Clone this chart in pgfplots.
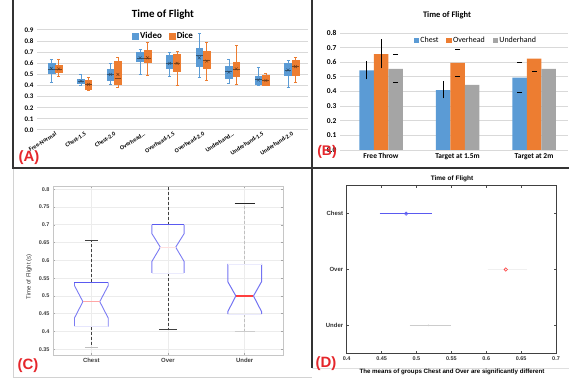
\documentclass[border=0pt]{standalone}
\usepackage{fontspec}
\setmainfont{Carlito}
\newfontfamily\hel{Liberation Sans}
\usepackage{pgfplots}
\pgfplotsset{compat=1.18}
\definecolor{vblue}{HTML}{5B9BD5}
\definecolor{dorange}{HTML}{ED7D31}
\definecolor{ugray}{HTML}{A5A5A5}
\definecolor{lblred}{HTML}{E5262B}
\definecolor{gridc}{HTML}{D9D9D9}
\definecolor{mblue}{HTML}{5A5AF0}
\newcommand{\fsz}[1]{\fontsize{#1}{#1}\selectfont}
% box: color, position, lower whisker, q1, median, q3, upper whisker
\newcommand{\bxA}[7]{%
\pgfmathsetmacro\bxl{#2-0.115}\pgfmathsetmacro\bxr{#2+0.115}%
\pgfmathsetmacro\cxl{#2-0.05}\pgfmathsetmacro\cxr{#2+0.05}%
\addplot[draw=#1, line width=0.6bp] coordinates {(#2,#3)(#2,#4)};
\addplot[draw=#1, line width=0.6bp] coordinates {(#2,#6)(#2,#7)};
\addplot[draw=#1, line width=0.6bp] coordinates {(\cxl,#3)(\cxr,#3)};
\addplot[draw=#1, line width=0.6bp] coordinates {(\cxl,#7)(\cxr,#7)};
\addplot[fill=#1, draw=#1, line width=0.5bp] coordinates {(\bxl,#4)(\bxr,#4)(\bxr,#6)(\bxl,#6)} -- cycle;
\addplot[draw=#1!55!black, line width=0.5bp] coordinates {(\bxl,#5)(\bxr,#5)};
}
\begin{document}
\begin{tikzpicture}
\begin{scope}[x=1bp,y=1bp]
\useasboundingbox (0,0) rectangle (569,382);
\draw[gray!35, line width=0.8bp] (13,214) -- (13,5) -- (312,5);
\draw[gray!25, line width=0.8bp] (312,14) -- (569,14);
\draw[black!80, line width=1.2bp] (13,382) -- (13,214) -- (569,214);
\draw[black!80, line width=1.2bp] (312,382) -- (312,14);
\end{scope}

% ================= Panel A =================
\begin{axis}[at={(37bp,252bp)}, anchor=south west, scale only axis,
  width=271bp, height=100bp,
  xmin=-0.61, xmax=8.55, ymin=0, ymax=0.9,
  ytick={0,0.1,0.2,0.3,0.4,0.5,0.6,0.7,0.8,0.9},
  xtick={0,1,2,3,4,5,6,7,8},
  xticklabels={Free-Normal,Chest-1.5,Chest-2.0,Overhead\ldots,Overhead-1.5,Overhead-2.0,Underhand\ldots,Underhand-1.5,Underhand-2.0},
  x tick label style={rotate=32, anchor=north east, font=\bfseries\fsz{6}, inner sep=1bp},
  y tick label style={font=\bfseries\fsz{7}},
  yticklabel style={/pgf/number format/.cd, fixed, fixed zerofill, precision=1},
  /pgf/number format/assume math mode=true,
  ymajorgrids, grid style={gridc, line width=1bp},
  axis line style={draw=none}, major tick length=0pt,
  legend columns=2,
  legend style={at={(0.467,0.94)}, anchor=center, draw=none, fill=none,
    font=\bfseries\fsz{9}, /tikz/every even column/.append style={column sep=5bp}},
]
\addlegendimage{only marks, mark=square*, mark size=3bp, mark options={fill=vblue, draw=vblue}}
\addlegendimage{only marks, mark=square*, mark size=3bp, mark options={fill=dorange, draw=dorange}}
\legend{Video,Dice}
% Video
\bxA{vblue}{-0.125}{0.43}{0.51}{0.55}{0.60}{0.64}
\bxA{vblue}{0.875}{0.40}{0.42}{0.44}{0.46}{0.50}
\bxA{vblue}{1.875}{0.41}{0.45}{0.50}{0.55}{0.60}
\bxA{vblue}{2.875}{0.50}{0.62}{0.65}{0.70}{0.73}
\bxA{vblue}{3.875}{0.48}{0.56}{0.60}{0.67}{0.70}
\bxA{vblue}{4.875}{0.47}{0.57}{0.67}{0.74}{0.87}
\bxA{vblue}{5.875}{0.42}{0.47}{0.53}{0.57}{0.64}
\bxA{vblue}{6.875}{0.40}{0.41}{0.46}{0.48}{0.56}
\bxA{vblue}{7.875}{0.38}{0.49}{0.54}{0.60}{0.63}
% Dice
\bxA{dorange}{0.125}{0.48}{0.52}{0.55}{0.58}{0.64}
\bxA{dorange}{1.125}{0.36}{0.37}{0.41}{0.45}{0.47}
\bxA{dorange}{2.125}{0.38}{0.41}{0.47}{0.62}{0.65}
\bxA{dorange}{3.125}{0.49}{0.61}{0.65}{0.72}{0.79}
\bxA{dorange}{4.125}{0.40}{0.53}{0.60}{0.68}{0.71}
\bxA{dorange}{5.125}{0.45}{0.56}{0.63}{0.71}{0.79}
\bxA{dorange}{6.125}{0.41}{0.48}{0.55}{0.61}{0.76}
\bxA{dorange}{7.125}{0.40}{0.40}{0.45}{0.49}{0.51}
\bxA{dorange}{8.125}{0.43}{0.49}{0.57}{0.63}{0.65}
\addplot[only marks, mark=x, mark size=2bp, draw=vblue!45!black] coordinates {
(-0.125,0.555)(0.875,0.44)(1.875,0.50)(2.875,0.65)(3.875,0.60)(4.875,0.65)(5.875,0.52)(6.875,0.45)(7.875,0.54)};
\addplot[only marks, mark=x, mark size=2bp, draw=dorange!45!black] coordinates {
(0.125,0.55)(1.125,0.41)(2.125,0.50)(3.125,0.65)(4.125,0.60)(5.125,0.62)(6.125,0.55)(7.125,0.445)(8.125,0.57)};
\end{axis}

% ================= Panel B =================
\begin{axis}[at={(340bp,232bp)}, anchor=south west, scale only axis,
  width=227.7bp, height=117bp,
  xmin=-0.536, xmax=2.44, ymin=0, ymax=0.8,
  ytick={0,0.1,0.2,0.3,0.4,0.5,0.6,0.7,0.8},
  xtick={0,1,2}, xticklabels={Free Throw,Target at 1.5m,Target at 2m},
  x tick label style={font=\bfseries\fsz{7.5}},
  y tick label style={font=\bfseries\fsz{7.5}},
  yticklabel style={/pgf/number format/.cd, fixed, fixed zerofill, precision=1},
  /pgf/number format/assume math mode=true,
  ymajorgrids, grid style={gridc, line width=0.8bp},
  axis line style={draw=none}, major tick length=0pt,
  legend columns=3,
  legend style={at={(0.597,0.94)}, anchor=center, draw=none, fill=none,
    font=\fsz{8}, /tikz/every even column/.append style={column sep=6bp}},
]
\addlegendimage{only marks, mark=square*, mark size=2.3bp, mark options={fill=vblue, draw=vblue}}
\addlegendimage{only marks, mark=square*, mark size=2.3bp, mark options={fill=dorange, draw=dorange}}
\addlegendimage{only marks, mark=square*, mark size=2.3bp, mark options={fill=ugray, draw=ugray}}
\legend{Chest,Overhead,Underhand}
\addplot[ybar, bar width=14.5bp, bar shift=-14.5bp, fill=vblue, draw=none] coordinates {(0,0.545)(1,0.41)(2,0.495)};
\addplot[ybar, bar width=14.5bp, bar shift=0bp, fill=dorange, draw=none] coordinates {(0,0.655)(1,0.595)(2,0.625)};
\addplot[ybar, bar width=14.5bp, bar shift=14.5bp, fill=ugray, draw=none] coordinates {(0,0.555)(1,0.445)(2,0.555)};
\addplot[draw=none, mark=none, error bars/.cd, y dir=both, y explicit,
  error bar style={draw=black, line width=0.7bp},
  error mark options={draw=black, line width=0.7bp, mark size=2.5bp}] coordinates {
(-0.19,0.545) += (0,0.045) -= (0,0.045)
(0,0.655) += (0,0.085) -= (0,0.08)
(0.81,0.41) += (0,0.045) -= (0,0.04)};
\addplot[only marks, mark=-, mark size=2.5bp, draw=black, line width=0.7bp] coordinates {
(0.19,0.655)(0.19,0.46)(1,0.69)(1,0.505)(1.81,0.60)(1.81,0.395)(2,0.535)};
\end{axis}

% ================= Panel C =================
\begin{axis}[at={(53bp,27bp)}, anchor=south west, scale only axis,
  width=230bp, height=169bp,
  xmin=0.5, xmax=3.5, ymin=0.334, ymax=0.809,
  xtick={1,2,3}, xticklabels={Chest,Over,Under},
  ytick={0.35,0.4,0.45,0.5,0.55,0.6,0.65,0.7,0.75,0.8},
  yticklabel style={/pgf/number format/.cd, fixed, precision=2},
  /pgf/number format/assume math mode=true,
  ticklabel style={font=\hel\bfseries\fsz{5.5}, text=black!75},
  x tick label style={font=\hel\bfseries\fsz{6}},
  grid=major, grid style={gray!15, line width=0.6bp},
  axis line style={gray!45, line width=0.6bp},
  tick style={gray!70, line width=0.5bp}, tick align=inside, major tick length=2bp,
]
\addplot[black!75, line width=0.8bp, dash pattern=on 3bp off 2bp] coordinates {(1,0.538)(1,0.655)};
\addplot[black!75, line width=0.8bp, dash pattern=on 3bp off 2bp] coordinates {(1,0.414)(1,0.355)};
\addplot[black!75, line width=0.8bp, dash pattern=on 3bp off 2bp] coordinates {(2,0.70)(2,0.85)};
\addplot[black!75, line width=0.8bp, dash pattern=on 3bp off 2bp] coordinates {(2,0.565)(2,0.407)};
\addplot[black!25, line width=0.7bp, dash pattern=on 3bp off 2bp] coordinates {(3,0.59)(3,0.76)};
\addplot[black!25, line width=0.7bp, dash pattern=on 3bp off 2bp] coordinates {(3,0.449)(3,0.40)};
\addplot[black!75, line width=0.9bp] coordinates {(0.915,0.655)(1.085,0.655)};
\addplot[black!25, line width=0.7bp] coordinates {(0.915,0.355)(1.085,0.355)};
\addplot[black!75, line width=0.9bp] coordinates {(1.88,0.407)(2.12,0.407)};
\addplot[black!85, line width=0.9bp] coordinates {(2.87,0.76)(3.13,0.76)};
\addplot[black!20, line width=0.7bp] coordinates {(2.87,0.40)(3.13,0.40)};
\addplot[mblue!80, line width=0.9bp] coordinates {(0.78,0.414)(0.78,0.438)(0.89,0.484)(0.78,0.529)(0.78,0.538)};
\addplot[mblue!80, line width=0.9bp] coordinates {(1.22,0.414)(1.22,0.438)(1.11,0.484)(1.22,0.529)(1.22,0.538)};
\addplot[mblue, line width=1.3bp] coordinates {(0.78,0.538)(1.22,0.538)};
\addplot[mblue!15, line width=0.6bp] coordinates {(0.78,0.414)(1.22,0.414)};
\addplot[red!35, line width=0.8bp] coordinates {(0.89,0.484)(1.11,0.484)};
\addplot[mblue!80, line width=0.9bp] coordinates {(1.79,0.565)(1.79,0.597)(1.90,0.637)(1.79,0.675)(1.79,0.70)};
\addplot[mblue!80, line width=0.9bp] coordinates {(2.21,0.565)(2.21,0.597)(2.10,0.637)(2.21,0.675)(2.21,0.70)};
\addplot[mblue, line width=1.3bp] coordinates {(1.79,0.70)(2.21,0.70)};
\addplot[mblue!12, line width=0.6bp] coordinates {(1.79,0.565)(2.21,0.565)};
\addplot[red!12, line width=0.6bp] coordinates {(1.90,0.637)(2.10,0.637)};
\addplot[mblue!85, line width=1bp] coordinates {(2.78,0.449)(2.78,0.456)(2.885,0.50)(2.78,0.54)(2.78,0.59)};
\addplot[mblue!85, line width=1bp] coordinates {(3.22,0.449)(3.22,0.456)(3.115,0.50)(3.22,0.54)(3.22,0.59)};
\addplot[mblue!12, line width=0.6bp] coordinates {(2.78,0.59)(3.22,0.59)};
\addplot[mblue!12, line width=0.6bp] coordinates {(2.78,0.449)(3.22,0.449)};
\addplot[red!75, line width=1.3bp] coordinates {(2.885,0.50)(3.115,0.50)};
\end{axis}

% ================= Panel D =================
\begin{axis}[at={(346.7bp,28.7bp)}, anchor=south west, scale only axis,
  width=209.3bp, height=167.6bp,
  xmin=0.4, xmax=0.7, ymin=0.5, ymax=3.5,
  ytick={1,2,3}, yticklabels={Under,Over,Chest},
  xtick={0.4,0.45,0.5,0.55,0.6,0.65,0.7},
  xticklabel style={/pgf/number format/.cd, fixed, precision=2},
  /pgf/number format/assume math mode=true,
  ticklabel style={font=\hel\bfseries\fsz{5.5}, text=black!80},
  y tick label style={font=\hel\bfseries\fsz{6}},
  axis line style={black!75, line width=0.6bp},
  tick style={black!70, line width=0.5bp}, tick align=inside, major tick length=2bp,
]
\addplot[mblue, line width=0.7bp] coordinates {(0.447,3)(0.522,3)};
\addplot[only marks, mark=o, mark size=1.7bp, draw=mblue, line width=0.6bp] coordinates {(0.485,3)};
\addplot[gray!12, line width=0.7bp] coordinates {(0.602,2)(0.659,2)};
\addplot[only marks, mark=o, mark size=1.7bp, draw=red!75, line width=0.6bp] coordinates {(0.628,2)};
\addplot[gray!40, line width=0.8bp] coordinates {(0.490,1)(0.550,1)};
\addplot[only marks, mark=*, mark size=0.6bp, draw=gray!40, fill=gray!40] coordinates {(0.517,1)};
\end{axis}

\begin{scope}[x=1bp,y=1bp]
\node[font=\bfseries\fsz{11}] at (163,367) {Time of Flight};
\node[font=\bfseries\fsz{8.5}] at (447,367) {Time of Flight};
\node[font=\hel\fsz{6}, rotate=90, text=black!80] at (29,105) {Time of Flight (s)};
\node[font=\hel\bfseries\fsz{6.5}] at (452,203) {Time of Flight};
\node[font=\hel\bfseries\fsz{6.2}] at (452,10.5) {The means of groups Chest and Over are significantly different};
\node[font=\hel\bfseries\fsz{15}, text=lblred] at (29,224) {(A)};
\node[font=\hel\bfseries\fsz{14}, text=lblred] at (327,230) {(B)};
\node[font=\hel\bfseries\fsz{15}, text=lblred] at (28,16) {(C)};
\node[font=\hel\bfseries\fsz{15}, text=lblred] at (326,18) {(D)};
\end{scope}
\end{tikzpicture}
\end{document}
